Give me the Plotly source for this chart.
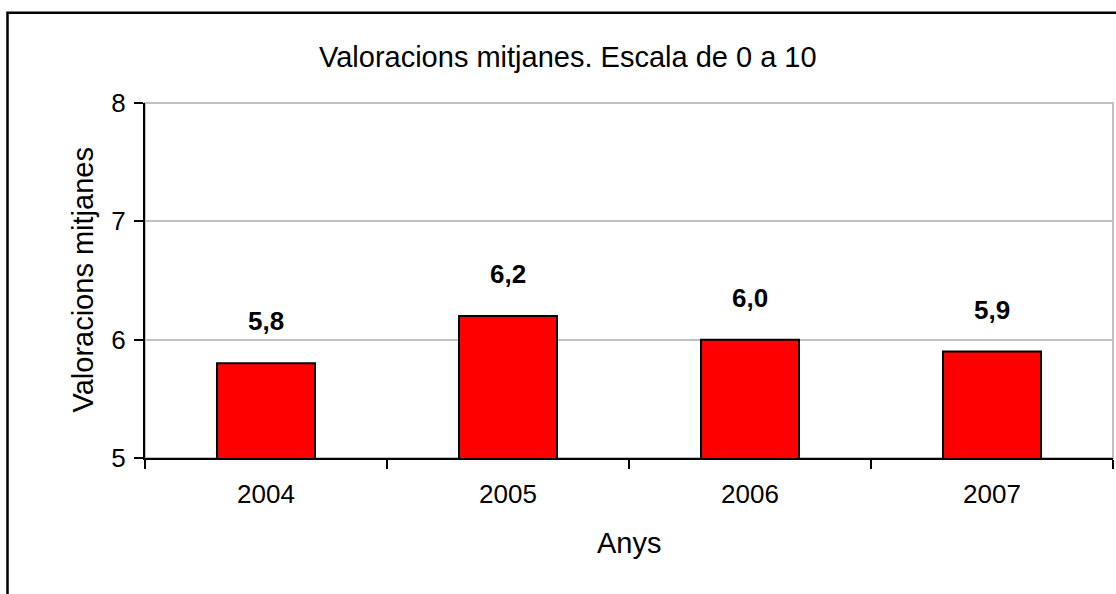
import plotly.graph_objects as go

years = ["2004", "2005", "2006", "2007"]
values = [5.8, 6.2, 6.0, 5.9]
y_ticks = [5, 6, 7, 8]

title_text = "Valoracions mitjanes. Escala de 0 a 10"
y_title = "Valoracions mitjanes"
x_title = "Anys"

FONT = "Liberation Sans, Arial, sans-serif"

W, H = 1116, 594
L, R, T, B = 145, 3, 103, 136
PW, PH = W - L - R, H - T - B


def px_x(px):
    return (px - L) / PW


def px_y(py):
    return (H - B - py) / PH


labels = [f"{v:.1f}".replace(".", ",") for v in values]

fig = go.Figure(
    go.Bar(
        x=years,
        y=values,
        marker=dict(color="#FF0000", line=dict(color="#000000", width=2)),
        hoverinfo="x+y",
    )
)

annotations = []
for i, (v, lab) in enumerate(zip(values, labels)):
    annotations.append(
        dict(
            x=i, y=v, xref="x", yref="y", text=f"<b>{lab}</b>",
            showarrow=False, yanchor="middle", yshift=42,
            font=dict(family=FONT, size=26, color="#000000"),
        )
    )

annotations += [
    dict(x=px_x(567.5), y=px_y(57), xref="paper", yref="paper", text=title_text,
         showarrow=False, xanchor="center", yanchor="middle",
         font=dict(family=FONT, size=29, color="#000000")),
    dict(x=0.5, y=px_y(543), xref="paper", yref="paper", text=x_title,
         showarrow=False, xanchor="center", yanchor="middle",
         font=dict(family=FONT, size=29, color="#000000")),
    dict(x=px_x(82), y=0.5, xref="paper", yref="paper", text=y_title,
         showarrow=False, xanchor="center", yanchor="middle", textangle=-90,
         font=dict(family=FONT, size=29, color="#000000")),
]

shapes = [
    # plot area border (gray)
    dict(type="rect", xref="paper", yref="paper", x0=0, x1=1, y0=0, y1=1,
         line=dict(color="#C0C0C0", width=2), layer="below"),
    # outer chart border (black)
    dict(type="rect", xref="paper", yref="paper",
         x0=px_x(7.5), x1=px_x(1200), y0=px_y(700), y1=px_y(12.7),
         line=dict(color="#000000", width=2.5)),
]

fig.update_layout(
    width=W, height=H,
    margin=dict(l=L, r=R, t=T, b=B, pad=0),
    paper_bgcolor="#FFFFFF", plot_bgcolor="#FFFFFF",
    bargap=0.595,
    showlegend=False,
    annotations=annotations,
    shapes=shapes,
    font=dict(family=FONT, color="#000000"),
)

fig.update_xaxes(
    type="category",
    categoryorder="array", categoryarray=years,
    range=[-0.5, len(years) - 0.5], autorange=False,
    showline=True, linecolor="#000000", linewidth=2,
    ticks="outside", tickson="boundaries", ticklen=9, tickwidth=2, tickcolor="#000000",
    tickangle=0, ticklabelstandoff=12,
    tickfont=dict(family=FONT, size=26, color="#000000"),
    showgrid=False, zeroline=False,
)

fig.update_yaxes(
    range=[5, 8], autorange=False,
    tickvals=y_ticks, ticktext=[str(t) for t in y_ticks],
    showline=True, linecolor="#000000", linewidth=2,
    ticks="outside", ticklen=9, tickwidth=2, tickcolor="#000000",
    ticklabelstandoff=3,
    tickfont=dict(family=FONT, size=26, color="#000000"),
    showgrid=True, gridcolor="#C0C0C0", gridwidth=2,
    zeroline=False,
)

fig.write_html(
    "out.html",
    config={"displayModeBar": False},
    post_script="document.body.style.margin='0';document.body.style.overflow='hidden';",
)
